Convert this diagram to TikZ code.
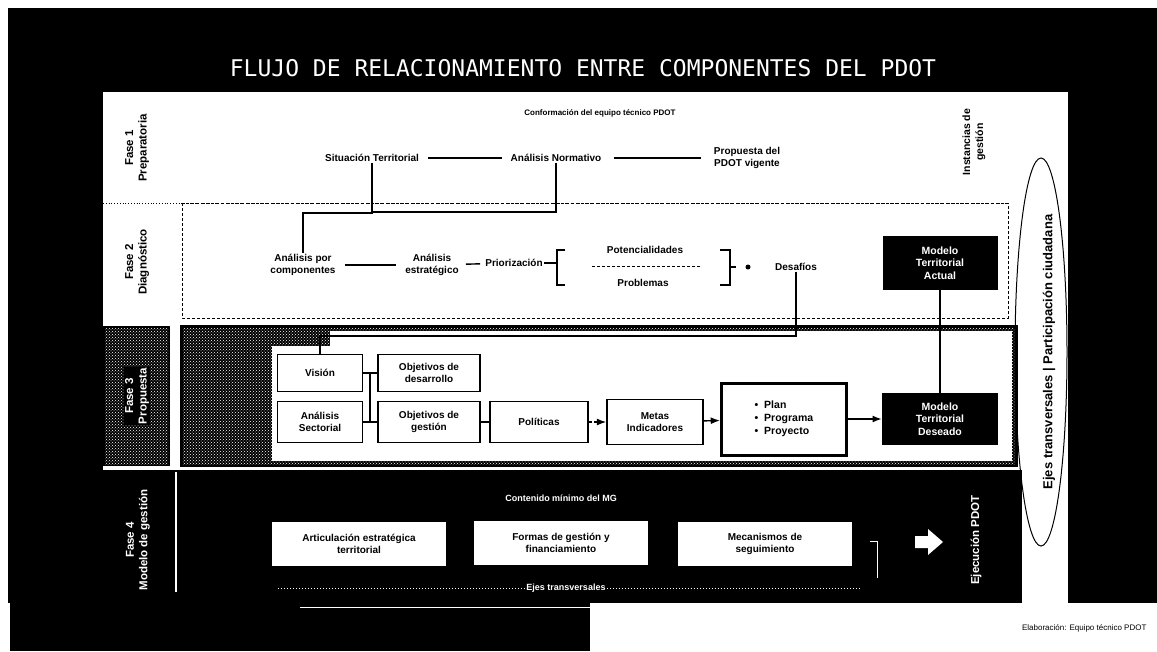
\documentclass[tikz,border=0pt]{standalone}
\usepackage{fontspec}
\setmainfont{Liberation Sans}
\newfontfamily\titulofont{DejaVu Sans Mono}
\usetikzlibrary{patterns,arrows.meta}

\tikzset{
  texto/.style={font=\bfseries\fontsize{10}{11.5}\selectfont, align=center, inner sep=1pt},
  textob/.style={texto, text=white},
  caja/.style={texto, draw, fill=white, line width=1.6pt},
  cajanegra/.style={texto, font=\bfseries\fontsize{10.5}{12.5}\selectfont, fill=black, text=white, minimum width=116pt, minimum height=52pt},
  cajagestion/.style={texto, fill=white, minimum width=174pt, minimum height=44pt},
  fase/.style={rotate=90, font=\bfseries\fontsize{11.5}{13.5}\selectfont, align=center},
  linea/.style={line width=1.4pt},
}

\begin{document}
\begin{tikzpicture}[x=1pt,y=-1pt]
    \useasboundingbox (0,0) rectangle (1157,651);
    % Fondo
    \fill[white] (0,0) rectangle (1157,651);
    \fill[black] (8,8) rectangle (1157,603);
    \fill[black] (10,603) rectangle (590,651);
    \fill[white] (103,92) rectangle (1068,470);
    \fill[white] (1022,470) rectangle (1068,610);
    \draw[white, line width=1pt] (300,607) -- (590,607);
    % Titulo
    \node[text=white, font=\titulofont\fontsize{23}{25}\selectfont] (titulo) at (583,68) {FLUJO DE RELACIONAMIENTO ENTRE COMPONENTES DEL PDOT};

    % Fases
    \node[fase] (fase1) at (137,148) {Fase 1\\Preparatoria};
    \node[fase] (fase2) at (137,262) {Fase 2\\Diagnóstico};
    \fill[black] (103,326) rectangle (170,466);
    \fill[pattern=crosshatch dots, pattern color=white] (105,328) rectangle (168,464);
    \node[fase, fill=black, text=white, inner sep=1pt] (fase3) at (137,396) {Fase 3\\Propuesta};
    \node[fase, text=white] (fase4) at (138,540) {Fase 4\\Modelo de gestión};
    \draw[white, line width=2.5pt] (176,472) -- (176,592);
    \draw[dotted, line width=0.8pt] (103,203) -- (1010,203);
    \draw[densely dashed, line width=0.6pt] (182,203) rectangle (1008,318);

    % Fase 1
    \node[texto, font=\bfseries\fontsize{8}{9}\selectfont] (conformacion) at (600,113) {Conformación del equipo técnico PDOT};
    \node[texto] (situacion) at (372,158) {Situación Territorial};
    \node[texto] (normativo) at (556,158) {Análisis Normativo};
    \node[texto] (propuesta) at (747,158) {Propuesta del\\PDOT vigente};
    \node[fase, font=\bfseries\fontsize{10.5}{13}\selectfont] (instancias) at (974,142) {Instancias de\\gestión};
    \draw[linea, shorten <=8pt, shorten >=8pt] (situacion) -- (normativo);
    \draw[linea, shorten <=12pt, shorten >=12pt] (normativo) -- (propuesta);

    % Fase 2
    \node[texto] (componentes) at (303,265) {Análisis por\\componentes};
    \node[texto] (estrategico) at (432,265) {Análisis\\estratégico};
    \node[texto] (priorizacion) at (514,263) {Priorización};
    \node[texto] (potencialidades) at (645,250) {Potencialidades};
    \node[texto] (problemas) at (643,283) {Problemas};
    \node[texto] (desafios) at (796,267) {Desafíos};
    \node[cajanegra, minimum width=115pt, minimum height=54pt] (mta) at (940,263) {Modelo\\Territorial\\Actual};
    \draw[linea, shorten <=8pt, shorten >=8pt] (componentes) -- (estrategico);
    \draw[linea, shorten <=6pt, shorten >=4pt] (estrategico) -- (priorizacion);
    \draw[linea] (priorizacion.east) -- (557,263);
    \draw[linea] (565,250) -- (557,250) -- (557,285) -- (565,285);
    \draw[densely dashed] (592,266) -- (700,266);
    \draw[linea] (720,250) -- (730,250) -- (730,285) -- (720,285);
    \draw[linea] (730,267) -- (736,267);
    \fill (748,267) circle (2.5);
    \draw[linea] (situacion.south) -- (372,213) -- (303,213) -- (componentes.north);
    \draw[linea] (normativo.south) |- (372,212);

    % Fase 3
    \fill[black] (180,325) rectangle (1018,467);
    \fill[pattern=crosshatch dots, pattern color=white] (183,328) rectangle (1015,464);
    \fill[white] (272,346) rectangle (1012,461);
    \fill[white] (330,331) rectangle (1012,346);
    \node[caja, minimum width=85pt, minimum height=37pt] (vision) at (320,373) {Visión};
    \node[caja, minimum width=102pt, minimum height=37pt] (objdesarrollo) at (429,373) {Objetivos de\\desarrollo};
    \node[caja, minimum width=85pt, minimum height=41pt] (sectorial) at (320,422) {Análisis\\Sectorial};
    \node[caja, minimum width=102pt, minimum height=41pt] (objgestion) at (429,422) {Objetivos de\\gestión};
    \node[caja, minimum width=98pt, minimum height=41pt] (politicas) at (539,422) {Políticas};
    \node[caja, minimum width=96pt, minimum height=45pt] (metas) at (655,422) {Metas\\Indicadores};
    \node[caja, line width=3pt, minimum width=125pt, minimum height=72pt, align=left, font=\bfseries\fontsize{10.5}{13}\selectfont] (ppp) at (784,419) {\textbullet\ \ Plan\\\textbullet\ \ Programa\\\textbullet\ \ Proyecto};
    \node[cajanegra] (mtd) at (940,419) {Modelo\\Territorial\\Deseado};
    \draw[linea] (vision) -- (objdesarrollo);
    \draw[linea] (sectorial) -- (objgestion);
    \draw[linea] (370,373) -- (370,422);
    \draw[linea] (objgestion) -- (politicas);
    \draw[linea, densely dashed, -{Latex}] (politicas) -- (metas);
    \draw[linea, -{Latex}] (metas) -- (ppp);
    \draw[linea, -{Latex}] (ppp) -- (mtd);
    \draw[linea] (desafios.south) -- (796,336) -| (vision.north);
    \draw[linea] (mta) -- (mtd);

    % Fase 4
    \node[textob, font=\bfseries\fontsize{9}{10}\selectfont] (contenido) at (561,498) {Contenido mínimo del MG};
    \node[cajagestion] (articulacion) at (359,544) {Articulación estratégica\\territorial};
    \node[cajagestion] (formas) at (561,543) {Formas de gestión y\\financiamiento};
    \node[cajagestion] (mecanismos) at (765,544) {Mecanismos de\\seguimiento};
    \draw[white, line width=1pt] (870,541) -- (877,541) -- (877,578);
    \fill[white] (915,536) -- (928,536) -- (928,529) -- (943,542) -- (928,555) -- (928,548) -- (915,548) -- cycle;
    \node[fase, text=white] (ejecucion) at (976,540) {Ejecución PDOT};
    \node[textob, font=\bfseries\fontsize{9}{10}\selectfont] (ejes) at (566,588) {Ejes transversales};
    \draw[white, dotted, line width=1pt] (278,588) -- (ejes.west);
    \draw[white, dotted, line width=1pt] (ejes.east) -- (860,588);

    % Ejes transversales
    \draw[line width=1pt] (1041,352) ellipse [x radius=26, y radius=194];
    \node[fase, font=\bfseries\fontsize{13}{15}\selectfont] (participacion) at (1049,352) {Ejes transversales | Participación ciudadana};

    \node[font=\fontsize{8}{9}\selectfont, anchor=east] (fuente) at (1150,628) {Elaboración: Equipo técnico PDOT};
\end{tikzpicture}
\end{document}
